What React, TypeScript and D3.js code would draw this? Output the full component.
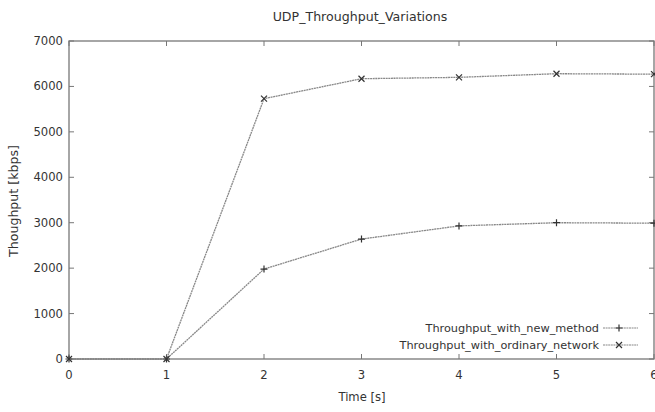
import { useEffect, useRef } from 'react'
import * as d3 from 'd3'

const times = [0, 1, 2, 3, 4, 5, 6]
const newMethod = [0, 0, 1980, 2640, 2930, 3000, 2990]
const ordinaryNetwork = [0, 0, 5730, 6170, 6200, 6280, 6270]
const yTicks = [0, 1000, 2000, 3000, 4000, 5000, 6000, 7000]
const xTicks = [0, 1, 2, 3, 4, 5, 6]

const W = 655
const H = 412
const M = { left: 69, right: 1, top: 41, bottom: 53 }
const FONT = 'DejaVu Sans, sans-serif'

export default function App() {
  const svgRef = useRef<SVGSVGElement>(null)

  useEffect(() => {
    if (!svgRef.current) return
    const svg = d3.select(svgRef.current)
    svg.selectAll('*').remove()

    const x = d3.scaleLinear().domain([0, 6]).range([M.left, W - M.right])
    const y = d3.scaleLinear().domain([0, 7000]).range([H - M.bottom, M.top])
    const axisColor = '#777'
    const textColor = '#333'

    // frame
    svg.append('rect').attr('x', x(0)).attr('y', y(7000)).attr('width', x(6) - x(0)).attr('height', y(0) - y(7000))
      .attr('fill', 'none').attr('stroke', axisColor).attr('stroke-width', 1.3)

    // mirror ticks, gnuplot style
    const tl = 5
    yTicks.forEach((t) => {
      svg.append('line').attr('x1', x(0)).attr('x2', x(0) + tl).attr('y1', y(t)).attr('y2', y(t)).attr('stroke', axisColor)
      svg.append('line').attr('x1', x(6)).attr('x2', x(6) - tl).attr('y1', y(t)).attr('y2', y(t)).attr('stroke', axisColor)
      svg.append('text').attr('x', x(0) - 6).attr('y', y(t)).attr('dy', '0.35em').attr('text-anchor', 'end')
        .attr('font-family', FONT).attr('font-size', 11.6).attr('fill', textColor).text(t)
    })
    xTicks.forEach((t) => {
      svg.append('line').attr('x1', x(t)).attr('x2', x(t)).attr('y1', y(0)).attr('y2', y(0) - tl).attr('stroke', axisColor)
      svg.append('line').attr('x1', x(t)).attr('x2', x(t)).attr('y1', y(7000)).attr('y2', y(7000) + tl).attr('stroke', axisColor)
      svg.append('text').attr('x', x(t)).attr('y', y(0) + 20).attr('text-anchor', 'middle')
        .attr('font-family', FONT).attr('font-size', 11.6).attr('fill', textColor).text(t)
    })

    // titles
    svg.append('text').attr('x', 360).attr('y', 21).attr('text-anchor', 'middle')
      .attr('font-family', FONT).attr('font-size', 12.6).attr('fill', textColor).text('UDP_Throughput_Variations')
    svg.append('text').attr('x', 362).attr('y', 401).attr('text-anchor', 'middle')
      .attr('font-family', FONT).attr('font-size', 11.6).attr('fill', textColor).text('Time [s]')
    svg.append('text').attr('transform', `translate(18,${(y(0) + y(7000)) / 2 + 1}) rotate(-90)`).attr('text-anchor', 'middle')
      .attr('font-family', FONT).attr('font-size', 12.6).attr('fill', textColor).text('Thoughput [kbps]')

    const line = d3.line<number>().x((_, i) => x(times[i])).y((d) => y(d))
    const lineColor = '#888'

    const plus = (g: d3.Selection<SVGGElement, unknown, null, undefined>, cx: number, cy: number) => {
      g.append('path').attr('d', `M${cx - 3.5},${cy}H${cx + 3.5}M${cx},${cy - 3.5}V${cy + 3.5}`).attr('stroke', '#333').attr('stroke-width', 1.2)
    }
    const cross = (g: d3.Selection<SVGGElement, unknown, null, undefined>, cx: number, cy: number) => {
      g.append('path').attr('d', `M${cx - 3},${cy - 3}L${cx + 3},${cy + 3}M${cx - 3},${cy + 3}L${cx + 3},${cy - 3}`).attr('stroke', '#333').attr('stroke-width', 1.2)
    }

    const series = [
      { data: newMethod, marker: plus, label: 'Throughput_with_new_method' },
      { data: ordinaryNetwork, marker: cross, label: 'Throughput_with_ordinary_network' },
    ]

    series.forEach((s, k) => {
      const g = svg.append('g')
      g.append('path').datum(s.data).attr('d', line).attr('fill', 'none').attr('stroke', lineColor)
        .attr('stroke-width', 1.3).attr('stroke-dasharray', '2,0.6')
      s.data.forEach((d, i) => s.marker(g, x(times[i]), y(d)))

      // legend
      const ly = 328 + k * 17
      g.append('text').attr('x', 599).attr('y', ly).attr('dy', '0.35em').attr('text-anchor', 'end')
        .attr('font-family', FONT).attr('font-size', 11.3).attr('fill', textColor).text(s.label)
      g.append('line').attr('x1', 603).attr('x2', 638).attr('y1', ly).attr('y2', ly)
        .attr('stroke', lineColor).attr('stroke-width', 1.2).attr('stroke-dasharray', '2,0.6')
      s.marker(g, 619, ly)
    })
  }, [])

  return <svg ref={svgRef} width={W} height={H} style={{ display: 'block', position: 'absolute', left: 0, top: 0, background: '#fff' }} />
}
